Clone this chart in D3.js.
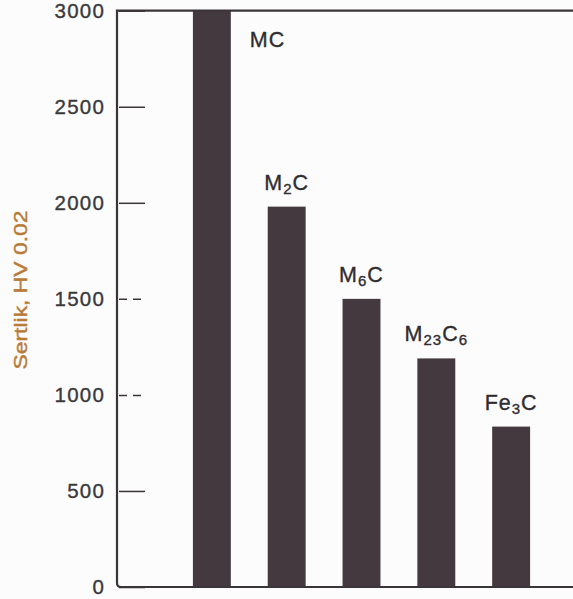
<!DOCTYPE html>
<html>
<head>
<meta charset="utf-8">
<script src="https://cdn.jsdelivr.net/npm/d3@7"></script>
<style>
  html, body { margin: 0; padding: 0; background: #fcfcfc; }
  svg { display: block; font-family: "Liberation Sans", Arial, sans-serif; }
</style>
</head>
<body>
<svg id="chart" width="573" height="599"></svg>
<script>
// Carbide types and their label pieces (text, is subscript)
const carbides = ["MC", "M2C", "M6C", "M23C6", "Fe3C"];
const labelParts = [
  [["MC", false]],
  [["M", false], ["2", true], ["C", false]],
  [["M", false], ["6", true], ["C", false]],
  [["M", false], ["23", true], ["C", false], ["6", true]],
  [["Fe", false], ["3", true], ["C", false]]
];
// Hardness, HV 0.02
const hardness = [3000, 1980, 1500, 1190, 835];
const yTicks = [0, 500, 1000, 1500, 2000, 2500, 3000];
const dashedTicks = [1000, 1500];
const yTitle = "Sertlik, HV 0.02";

const svg = d3.select("#chart");
const plotLeft = 117, plotRight = 573, plotTop = 10.7, plotBottom = 587;
const ink = "#3a3538";
const barColor = "#44393f";

const y = d3.scaleLinear().domain([0, 3000]).range([plotBottom, plotTop]);
const x = d3.scaleBand().domain(carbides).range([155.5, 567.5])
  .paddingInner(0.493).paddingOuter(0.5);

// bars
svg.append("g").selectAll("rect")
  .data(carbides)
  .join("rect")
  .attr("x", d => x(d))
  .attr("width", x.bandwidth())
  .attr("y", (d, i) => y(hardness[i]))
  .attr("height", (d, i) => y(0) - y(hardness[i]))
  .attr("fill", barColor);

// axis with inward ticks
const axis = svg.append("g")
  .attr("transform", `translate(${plotLeft},0)`)
  .call(d3.axisLeft(y).tickValues(yTicks).tickFormat(d3.format("d"))
    .tickSizeInner(-28).tickSizeOuter(0).tickPadding(12));
axis.select(".domain").remove();
axis.selectAll(".tick line")
  .attr("stroke", ink)
  .attr("stroke-width", 1.5)
  .attr("x1", 2)
  .attr("stroke-dasharray", d => dashedTicks.includes(d) ? "8,6" : null);
axis.selectAll(".tick text")
  .attr("fill", "#3a3a3c")
  .attr("stroke", "#3a3a3c")
  .attr("stroke-width", 0.35)
  .attr("font-size", 20.5)
  .attr("letter-spacing", "1.2px")
  .attr("font-family", "'Liberation Sans', Arial, sans-serif");

// frame: top, left and baseline
svg.append("path")
  .attr("d", `M${plotRight},${plotTop} H${plotLeft} V${plotBottom - 4} Q${plotLeft},${plotBottom} ${plotLeft + 4},${plotBottom} H${plotRight}`)
  .attr("fill", "none")
  .attr("stroke", ink)
  .attr("stroke-width", 2.2);

// bar labels with subscripts
const labels = svg.append("g")
  .attr("fill", "#2f2c30")
  .attr("stroke", "#2f2c30")
  .attr("stroke-width", 0.35)
  .attr("letter-spacing", "1px");
carbides.forEach((c, i) => {
  const v = hardness[i];
  const atMax = v >= y.domain()[1];
  const t = labels.append("text")
    .attr("x", atMax ? x(c) + x.bandwidth() + 19 : x(c) + x.bandwidth() / 2)
    .attr("y", atMax ? y(v) + 36 : y(v) - 17)
    .attr("text-anchor", atMax ? "start" : "middle");
  let shifted = false;
  labelParts[i].forEach(([s, sub]) => {
    let dy = 0;
    if (sub && !shifted) { dy = 4; shifted = true; }
    else if (!sub && shifted) { dy = -4; shifted = false; }
    t.append("tspan")
      .attr("font-size", sub ? 15 : 21.5)
      .attr("dy", dy)
      .text(s);
  });
});

// axis title
svg.append("text")
  .attr("transform", "translate(27,290) rotate(-90)")
  .attr("text-anchor", "middle")
  .attr("fill", "#b97a38")
  .attr("stroke", "#b97a38")
  .attr("stroke-width", 0.4)
  .attr("font-size", 17.5)
  .attr("textLength", 159)
  .attr("lengthAdjust", "spacingAndGlyphs")
  .text(yTitle);
</script>
</body>
</html>
